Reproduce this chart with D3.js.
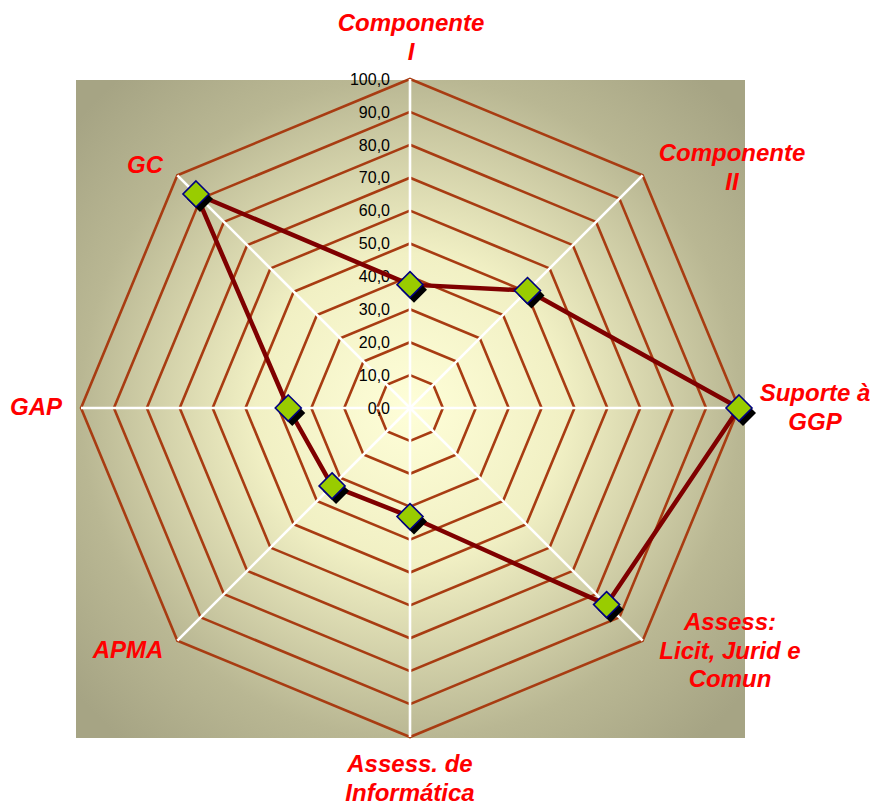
<!DOCTYPE html>
<html>
<head>
<meta charset="utf-8">
<script src="https://cdn.jsdelivr.net/npm/d3@7/dist/d3.min.js"></script>
<style>
  html, body { margin: 0; padding: 0; background: #ffffff; }
  svg { display: block; }
</style>
</head>
<body>
<svg id="chart" width="874" height="805"></svg>
<script>
// Radar categories, clockwise from the top
const categories = [
  ["Componente", "I"],
  ["Componente", "II"],
  ["Suporte à", "GGP"],
  ["Assess:", "Licit, Jurid e", "Comun"],
  ["Assess. de", "Informática"],
  ["APMA"],
  ["GAP"],
  ["GC"]
];
const values = [37.5, 50.5, 100, 84.5, 33, 33.5, 37, 92];
const ringLevels = [10, 20, 30, 40, 50, 60, 70, 80, 90, 100];
const tickValues = [0, 10, 20, 30, 40, 50, 60, 70, 80, 90, 100];

const svg = d3.select("#chart");
const cx = 410, cy = 408, R = 329;

const r = d3.scaleLinear().domain([0, 100]).range([0, R]);
const angle = d3.scaleLinear().domain([0, categories.length]).range([0, 2 * Math.PI]);
const pt = (i, v) => [cx + r(v) * Math.sin(angle(i)), cy - r(v) * Math.cos(angle(i))];

// plot area with radial shading
const defs = svg.append("defs");
const grad = defs.append("radialGradient").attr("id", "bg")
  .attr("gradientUnits", "userSpaceOnUse")
  .attr("cx", cx).attr("cy", cy).attr("r", 440);
grad.append("stop").attr("offset", "0%").attr("stop-color", "#fefed8");
grad.append("stop").attr("offset", "35%").attr("stop-color", "#f1f0c4");
grad.append("stop").attr("offset", "75%").attr("stop-color", "#b9b793");
grad.append("stop").attr("offset", "100%").attr("stop-color", "#a6a484");

svg.append("rect").attr("x", 76).attr("y", 80).attr("width", 669).attr("height", 658)
  .attr("fill", "url(#bg)");

// octagonal grid rings
const ringLine = d3.line().curve(d3.curveLinearClosed);
svg.append("g").selectAll("path").data(ringLevels).join("path")
  .attr("d", lv => ringLine(categories.map((c, i) => pt(i, lv))))
  .attr("fill", "none")
  .attr("stroke", "#a83c12")
  .attr("stroke-width", 2.6);

// spokes
svg.append("g").selectAll("line").data(categories).join("line")
  .attr("x1", cx).attr("y1", cy)
  .attr("x2", (d, i) => pt(i, 100)[0])
  .attr("y2", (d, i) => pt(i, 100)[1])
  .attr("stroke", "#ffffff")
  .attr("stroke-width", 2.6);

// value labels along the top spoke
svg.append("g").selectAll("text").data(tickValues).join("text")
  .attr("x", 390)
  .attr("y", v => cy - r(v))
  .attr("dy", "0.36em")
  .attr("text-anchor", "end")
  .attr("font-family", "Liberation Sans, Arial, sans-serif")
  .attr("font-size", 16)
  .attr("fill", "#000000")
  .text(v => d3.format(".1f")(v).replace(".", ","));

// data series
const series = values.map((v, i) => pt(i, v));
svg.append("path")
  .attr("d", ringLine(series))
  .attr("fill", "none")
  .attr("stroke", "#7f0000")
  .attr("stroke-width", 4.5)
  .attr("stroke-linejoin", "round");

const diamond = (x, y, s) => `M${x},${y - s}L${x + s},${y}L${x},${y + s}L${x - s},${y}Z`;
const mk = svg.append("g");
mk.selectAll("path.shadow").data(series).join("path").attr("class", "shadow")
  .attr("d", d => diamond(d[0] + 4, d[1] + 5, 13))
  .attr("fill", "#000000");
mk.selectAll("path.mark").data(series).join("path").attr("class", "mark")
  .attr("d", d => diamond(d[0], d[1], 13))
  .attr("fill", "#99cc00")
  .attr("stroke", "#000080")
  .attr("stroke-width", 1.6);

// category labels: anchor x and first-line baseline
const labelPos = [
  [411, 31], [732, 161], [815, 401], [730, 630],
  [410, 772], [128, 658], [36, 415], [145, 173]
];
const lab = svg.append("g")
  .attr("font-family", "Liberation Sans, Arial, sans-serif")
  .attr("font-size", 24)
  .attr("font-weight", "bold")
  .attr("font-style", "italic")
  .attr("fill", "#ff0000")
  .attr("text-anchor", "middle");
categories.forEach((lines, i) => {
  const t = lab.append("text").attr("x", labelPos[i][0]).attr("y", labelPos[i][1]);
  lines.forEach((s, j) => {
    t.append("tspan").attr("x", labelPos[i][0]).attr("dy", j === 0 ? 0 : 28.5).text(s);
  });
});
</script>
</body>
</html>
